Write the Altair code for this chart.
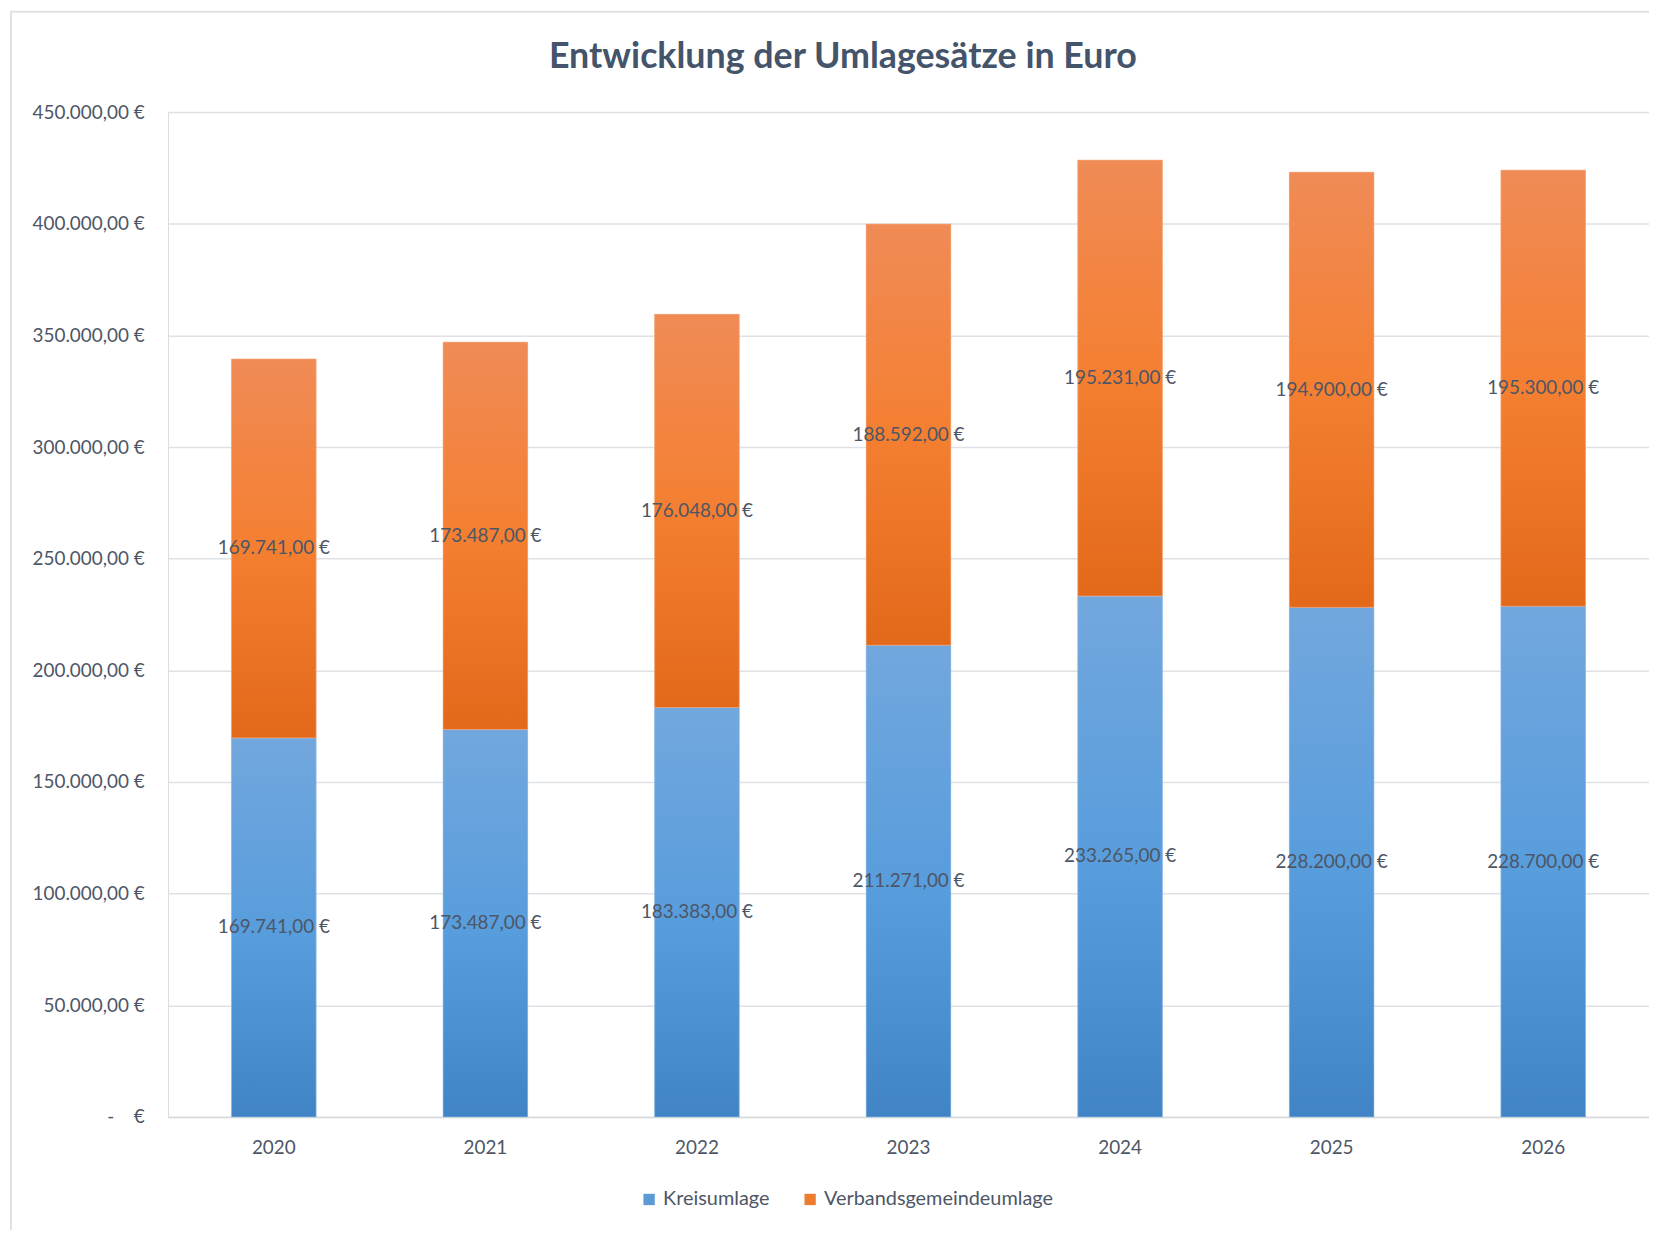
import altair as alt
import pandas as pd

years = ["2020", "2021", "2022", "2023", "2024", "2025", "2026"]
kreisumlage = [169741, 173487, 183383, 211271, 233265, 228200, 228700]
verbandsgemeindeumlage = [169741, 173487, 176048, 188592, 195231, 194900, 195300]
series_names = ["Kreisumlage", "Verbandsgemeindeumlage"]
series_colors = ["#5b9bd5", "#ed7d31"]
y_ticks = [0, 50000, 100000, 150000, 200000, 250000, 300000, 350000, 400000, 450000]
title_text = "Entwicklung der Umlagesätze in Euro"

rows = []
for i, yr in enumerate(years):
    rows.append({"year": yr, "series": series_names[0], "order": 0, "value": kreisumlage[i]})
    rows.append({"year": yr, "series": series_names[1], "order": 1, "value": verbandsgemeindeumlage[i]})
df = pd.DataFrame(rows)

FONT = "Lato"
TEXT_COLOR = "#4d5666"
FS = 19
NB = "\u00a0"

x_enc = alt.X("year:N", sort=years,
              scale=alt.Scale(paddingInner=0.6, paddingOuter=0.3),
              axis=alt.Axis(title=None, labelAngle=0, ticks=False, labelPadding=22,
                            domainColor="#d9d9d9", domainWidth=1.5,
                            labelFont=FONT, labelFontSize=FS, labelColor=TEXT_COLOR))
y_scale = alt.Scale(domain=[0, 450000], nice=False)
y_axis = alt.Axis(title=None, values=y_ticks, ticks=False, domain=False, labelPadding=24,
                  gridColor="#dfe1e5", gridWidth=1.5,
                  labelFont=FONT, labelFontSize=FS, labelColor=TEXT_COLOR,
                  labelExpr="datum.value == 0 ? '-" + NB * 4 + "€' : format(datum.value, ',.2f') + ' €'")

base = alt.Chart(df).transform_stack(
    stack="value", groupby=["year"], as_=["y0", "y1"], sort=[alt.SortField("order")]
).transform_calculate(
    mid="(datum.y0 + datum.y1) / 2",
    label="format(datum.value, ',.2f') + ' €'"
)

legend_layer = base.mark_bar().encode(
    x=x_enc,
    y=alt.Y("y0:Q", scale=y_scale, axis=y_axis),
    y2="y1:Q",
    color=alt.Color("series:N", scale=alt.Scale(domain=series_names, range=series_colors),
                    legend=alt.Legend(title=None, orient="none", direction="horizontal",
                                      legendX=474, legendY=1084, symbolType="square",
                                      symbolSize=130, symbolStrokeWidth=0,
                                      labelFont=FONT, labelFontSize=20, labelColor=TEXT_COLOR,
                                      labelLimit=400, columnPadding=30, labelOffset=4)),
)

blue_grad = alt.LinearGradient(gradient="linear", x1=0, x2=0, y1=0, y2=1, stops=[
    alt.GradientStop(color="#72a7dd", offset=0),
    alt.GradientStop(color="#569cdc", offset=0.55),
    alt.GradientStop(color="#4084c5", offset=1)])
orange_grad = alt.LinearGradient(gradient="linear", x1=0, x2=0, y1=0, y2=1, stops=[
    alt.GradientStop(color="#f08b56", offset=0),
    alt.GradientStop(color="#f47f31", offset=0.5),
    alt.GradientStop(color="#e3691a", offset=1)])

blue_layer = base.transform_filter(alt.datum.series == series_names[0]).mark_bar(
    fill=blue_grad, stroke="#9cc3ea", strokeWidth=0.6).encode(
    x=x_enc, y=alt.Y("y0:Q", scale=y_scale, axis=y_axis), y2="y1:Q")
orange_layer = base.transform_filter(alt.datum.series == series_names[1]).mark_bar(
    fill=orange_grad, stroke="#f7b08a", strokeWidth=0.6).encode(
    x=x_enc, y=alt.Y("y0:Q", scale=y_scale, axis=y_axis), y2="y1:Q")

text_layer = base.mark_text(font=FONT, fontSize=FS, color=TEXT_COLOR, baseline="middle").encode(
    x=x_enc, y=alt.Y("mid:Q", scale=y_scale, axis=y_axis), text="label:N")

frame = alt.Chart(pd.DataFrame({"f": [0]})).mark_rect(
    fill="transparent", stroke="#dfe1e5", strokeWidth=2).encode(
    x=alt.value(-158), x2=alt.value(1510), y=alt.value(-101), y2=alt.value(1135))

chart = alt.layer(frame, legend_layer, blue_layer, orange_layer, text_layer).properties(
    width=1490, height=1011,
    title=alt.TitleParams(title_text, font=FONT, fontSize=36, fontWeight="bold",
                          color="#44546a", anchor="middle", frame="group",
                          offset=-66, dx=-66),
    autosize=alt.AutoSizeParams(type="none"),
    padding={"left": 161, "top": 101, "right": 0, "bottom": 110},
).configure_view(stroke=None).configure(
    locale={"number": {"decimal": ",", "thousands": ".", "grouping": [3], "currency": ["", " €"]}}
)

chart.save("out.html", embed_options={"renderer": "svg", "actions": False})
